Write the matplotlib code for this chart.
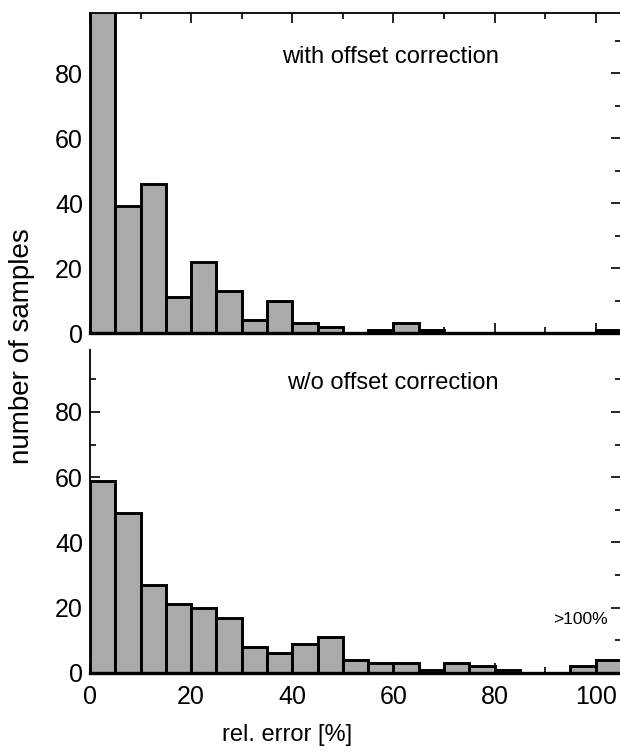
import numpy as np
import matplotlib
matplotlib.use("Agg")
import matplotlib.pyplot as plt
from matplotlib.ticker import MultipleLocator

plt.rcParams['font.family'] = ['Liberation Sans', 'DejaVu Sans']

# bin left edges [%], bin width 5, last bin collects >100%
bin_left = np.arange(0, 105, 5)
bin_width = 5

# counts per bin
with_offset = [100, 39, 46, 11, 22, 13, 4, 10, 3, 2, 0, 1, 3, 1, 0, 0, 0, 0, 0, 0, 1]
without_offset = [59, 49, 27, 21, 20, 17, 8, 6, 9, 11, 4, 3, 3, 1, 3, 2, 1, 0, 0, 2, 4]

fig = plt.figure(figsize=(6.2, 7.53), dpi=100)
ax_top = fig.add_axes([90 / 620, 1 - 333 / 753, 531 / 620, 320 / 753])
ax_bot = fig.add_axes([90 / 620, 1 - 673 / 753, 531 / 620, 323 / 753])


def draw_hist(ax, counts, ytop):
    counts = np.array(counts)
    keep = counts > 0
    ax.bar(bin_left[keep], counts[keep], width=bin_width, align='edge',
           color='#aaaaaa', edgecolor='black', linewidth=2.1, zorder=2)
    ax.set_xlim(0, 105)
    ax.set_ylim(0, ytop)
    ax.xaxis.set_major_locator(MultipleLocator(20))
    ax.xaxis.set_minor_locator(MultipleLocator(10))
    ax.yaxis.set_major_locator(MultipleLocator(20))
    ax.yaxis.set_minor_locator(MultipleLocator(10))
    ax.tick_params(which='both', direction='in', right=True, labelsize=18,
                   width=1.2)
    ax.tick_params(axis='y', pad=5)
    ax.tick_params(axis='x', pad=9)
    ax.tick_params(which='major', length=7)
    ax.tick_params(which='minor', length=4)
    for s in ax.spines.values():
        s.set_linewidth(1.3)
    ax.spines['bottom'].set_linewidth(2.4)


draw_hist(ax_top, with_offset, 98.5)
ax_top.tick_params(which='both', top=True, labelbottom=False)
ax_top.text(0.77, 0.8625, 'with offset correction', transform=ax_top.transAxes,
            ha='right', va='center', fontsize=17)

draw_hist(ax_bot, without_offset, 99)
ax_bot.spines['top'].set_visible(False)
ax_bot.tick_params(which='both', top=False)
ax_bot.text(0.77, 0.898, 'w/o offset correction', transform=ax_bot.transAxes,
            ha='right', va='center', fontsize=17)
ax_bot.text(97, 16.5, '>100%', ha='center', va='center', fontsize=12.5)

fig.text(287 / 620, 1 - 735 / 753, 'rel. error [%]', ha='center', va='center',
         fontsize=17)
fig.text(22 / 620, 1 - 346 / 753, 'number of samples', rotation=90,
         ha='center', va='center', fontsize=20)

fig.savefig('out.png', dpi=100)
